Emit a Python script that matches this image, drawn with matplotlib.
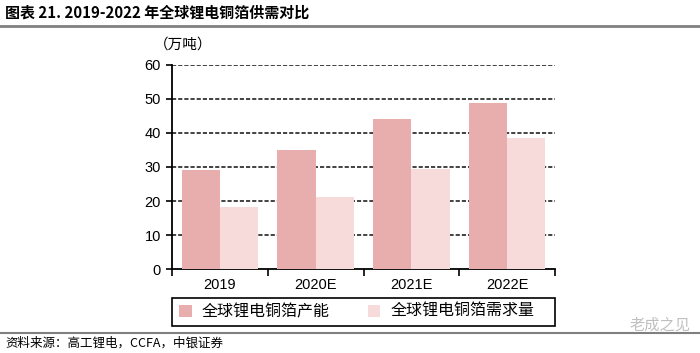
import matplotlib.pyplot as plt
from matplotlib.patches import Rectangle
import numpy as np

plt.rcParams['font.family'] = ['Liberation Sans', 'Noto Sans CJK SC', 'DejaVu Sans']

# data (万吨)
years = ['2019', '2020E', '2021E', '2022E']
capacity = [29, 35, 44, 48.8]
demand = [18.4, 21.2, 29.3, 38.6]
yticks = [0, 10, 20, 30, 40, 50, 60]

cap_color = '#E8ADAD'
dem_color = '#F7DADA'
cjk = ['Noto Sans CJK SC', 'DejaVu Sans']

fig = plt.figure(figsize=(7, 3.53), dpi=100)
ax = fig.add_axes([172 / 700, 1 - 269.3 / 353, 383 / 700, 204.6 / 353])

x = np.arange(len(years))
w = 0.4
ax.bar(x - w / 2, capacity, w, color=cap_color, label='全球锂电铜箔产能', zorder=3)
ax.bar(x + w / 2, demand, w, color=dem_color, label='全球锂电铜箔需求量', zorder=3)

ax.set_xlim(-0.5, len(years) - 0.5)
ax.set_ylim(0, 60)
ax.set_yticks(yticks)
ax.set_yticklabels([str(v) for v in yticks], fontsize=10.5)

# category labels at centres, tick marks at boundaries
ax.set_xticks(x)
ax.set_xticklabels(years, fontsize=10.5)
ax.tick_params(axis='x', length=0, pad=6)
ax.set_xticks(np.arange(-0.5, len(years)), minor=True)
ax.tick_params(axis='x', which='minor', length=5, width=1.2, direction='out')
ax.tick_params(axis='y', length=4, width=1.2, direction='out', pad=4)

# dashed grid
for v in yticks[1:]:
    ax.axhline(v, color='#222222', lw=1.2, ls=(0, (2.5, 1.2)), zorder=1)

for s in ['top', 'right']:
    ax.spines[s].set_visible(False)
ax.spines['left'].set_linewidth(1.3)
ax.spines['bottom'].set_linewidth(1.3)

# legend box under the axes
fig.add_artist(Rectangle((172 / 700, 1 - 325.7 / 353), 383 / 700, 28 / 353,
                         transform=fig.transFigure, fill=False, edgecolor='black', lw=1.2))
leg = fig.legend(loc='center left', bbox_to_anchor=(179 / 700, 1 - 311.7 / 353),
                 ncol=2, frameon=False, prop={'family': 'Noto Sans CJK SC', 'size': 11.5},
                 handlelength=0.8, handleheight=0.8, columnspacing=2.4, handletextpad=0.6,
                 borderaxespad=0, borderpad=0)

# title, unit, source
fig.text(5 / 700, 1 - 13 / 353, '图表 21. 2019-2022 年全球锂电铜箔供需对比', fontsize=10.8,
         fontweight='bold', va='center', ha='left', family=cjk)
fig.add_artist(plt.Line2D([0, 1], [1 - 26 / 353] * 2, color='#808080', lw=2))
fig.text(183 / 700, 1 - 45 / 353, '（万吨）', fontsize=10.5, va='center', ha='center', family=cjk)
fig.add_artist(plt.Line2D([0, 1], [1 - 333 / 353] * 2, color='#808080', lw=1.5))
fig.text(5 / 700, 1 - 343 / 353, '资料来源：高工锂电，CCFA，中银证券', fontsize=9, style='italic',
         va='center', ha='left', family=cjk)
fig.text(690 / 700, 1 - 325 / 353, '老成之见', fontsize=11, color='#B0B0B0', alpha=0.8,
         va='center', ha='right', family=cjk)

plt.savefig('out.png', dpi=100)
